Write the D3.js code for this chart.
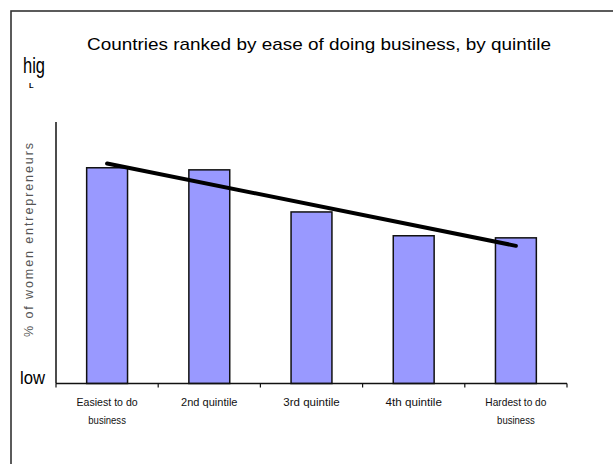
<!DOCTYPE html>
<html>
<head>
<meta charset="utf-8">
<script src="https://cdn.jsdelivr.net/npm/d3@7"></script>
<style>
  body { margin: 0; background: #fff; }
  svg { display: block; }
</style>
</head>
<body>
<div id="chart"></div>
<script>
// quintile groups and bar heights (relative, 0 = "low", 100 = top of axis)
var categories = ["Easiest to do|business", "2nd quintile", "3rd quintile", "4th quintile", "Hardest to do|business"];
var values = [82.5, 81.7, 65.6, 56.5, 55.7];

var width = 613;
var height = 464;
var margin = {left: 56, top: 122, right: 46, bottom: 80};
var font = "'Liberation Sans Narrow', 'Liberation Sans', Arial, sans-serif";

var svg = d3.select("#chart")
    .append("svg")
    .attr("width", width)
    .attr("height", height);

// outer frame, right and bottom edges fall off the picture
svg.append("rect")
    .attr("x", 11)
    .attr("y", 11)
    .attr("width", 800)
    .attr("height", 800)
    .style("fill", "none")
    .style("stroke", "#333")
    .style("stroke-width", 1.6);

var x = d3.scaleBand()
    .domain(categories)
    .range([margin.left, width - margin.right])
    .paddingInner(0.6)
    .paddingOuter(0.3);

var y = d3.scaleLinear()
    .domain([0, 100])
    .range([height - margin.bottom - 0.5, margin.top]);

// title
svg.append("text")
    .attr("x", 319)
    .attr("y", 50)
    .attr("text-anchor", "middle")
    .attr("textLength", 464)
    .attr("lengthAdjust", "spacingAndGlyphs")
    .style("font-family", font)
    .style("font-size", "17px")
    .text("Countries ranked by ease of doing business, by quintile");

// bars
svg.selectAll("rect.bar")
    .data(values)
    .enter()
    .append("rect")
    .attr("class", "bar")
    .attr("x", function (d, i) { return x(categories[i]); })
    .attr("y", function (d) { return y(d); })
    .attr("width", x.bandwidth())
    .attr("height", function (d) { return y(0) - y(d); })
    .style("fill", "#9999ff")
    .style("stroke", "#111")
    .style("stroke-width", 1.5);

// linear trend line through the bars (least squares)
var n = values.length;
var xm = (n - 1) / 2;
var ym = d3.mean(values);
var slope = d3.sum(values, function (d, i) { return (i - xm) * (d - ym); }) /
            d3.sum(values, function (d, i) { return (i - xm) * (i - xm); });
var trend = [0, n - 1].map(function (i) { return [i, ym + slope * (i - xm)]; });

svg.append("line")
    .attr("x1", x(categories[trend[0][0]]) + x.bandwidth() / 2)
    .attr("y1", y(trend[0][1]))
    .attr("x2", x(categories[trend[1][0]]) + x.bandwidth() / 2)
    .attr("y2", y(trend[1][1]))
    .style("stroke", "#000")
    .style("stroke-width", 4)
    .style("stroke-linecap", "round");

// x axis with ticks between the groups
var xAxisY = y(0);
svg.append("line")
    .attr("x1", margin.left)
    .attr("x2", width - margin.right)
    .attr("y1", xAxisY)
    .attr("y2", xAxisY)
    .style("stroke", "#111")
    .style("stroke-width", 1.5);

var tickXs = d3.range(categories.length + 1).map(function (i) {
    return margin.left + i * (width - margin.right - margin.left) / categories.length;
});
svg.selectAll("line.tick")
    .data(tickXs)
    .enter()
    .append("line")
    .attr("class", "tick")
    .attr("x1", function (d) { return d; })
    .attr("x2", function (d) { return d; })
    .attr("y1", xAxisY)
    .attr("y2", xAxisY + 4)
    .style("stroke", "#111")
    .style("stroke-width", 1.2);

// category labels, split on "|"
var labels = svg.selectAll("text.cat")
    .data(categories)
    .enter()
    .append("text")
    .attr("class", "cat")
    .attr("text-anchor", "middle")
    .style("font-family", font)
    .style("font-size", "11px")
    .style("fill", "#111");

labels.each(function (d) {
    var cx = x(d) + x.bandwidth() / 2;
    d3.select(this).selectAll("tspan")
        .data(d.split("|"))
        .enter()
        .append("tspan")
        .attr("x", cx)
        .attr("y", function (s, i) { return 406 + i * 18; })
        .attr("textLength", function (s) { return s.length * 4.7; })
        .attr("lengthAdjust", "spacingAndGlyphs")
        .text(function (s) { return s; });
});

// y axis
svg.append("line")
    .attr("x1", margin.left)
    .attr("x2", margin.left)
    .attr("y1", margin.top)
    .attr("y2", xAxisY)
    .style("stroke", "#111")
    .style("stroke-width", 1.5);

svg.append("text")
    .attr("transform", "translate(33,240) rotate(-90)")
    .attr("text-anchor", "middle")
    .attr("textLength", 194)
    .attr("lengthAdjust", "spacing")
    .style("font-family", "'Liberation Sans', Arial, sans-serif")
    .style("font-size", "12.5px")
    .style("fill", "#555")
    .text("% of women entrepreneurs");

// "high" label, wrapped so only the foot of the second line shows
svg.append("text")
    .attr("x", 23)
    .attr("y", 73)
    .attr("textLength", 22)
    .attr("lengthAdjust", "spacingAndGlyphs")
    .style("font-family", font)
    .style("font-size", "22px")
    .text("hig");

svg.append("text")
    .attr("x", 29)
    .attr("y", 88)
    .style("font-family", font)
    .style("font-size", "7.5px")
    .style("font-weight", "bold")
    .text("L");

svg.append("text")
    .attr("x", 20)
    .attr("y", 384)
    .attr("textLength", 25)
    .attr("lengthAdjust", "spacingAndGlyphs")
    .style("font-family", font)
    .style("font-size", "18px")
    .text("low");
</script>
</body>
</html>
